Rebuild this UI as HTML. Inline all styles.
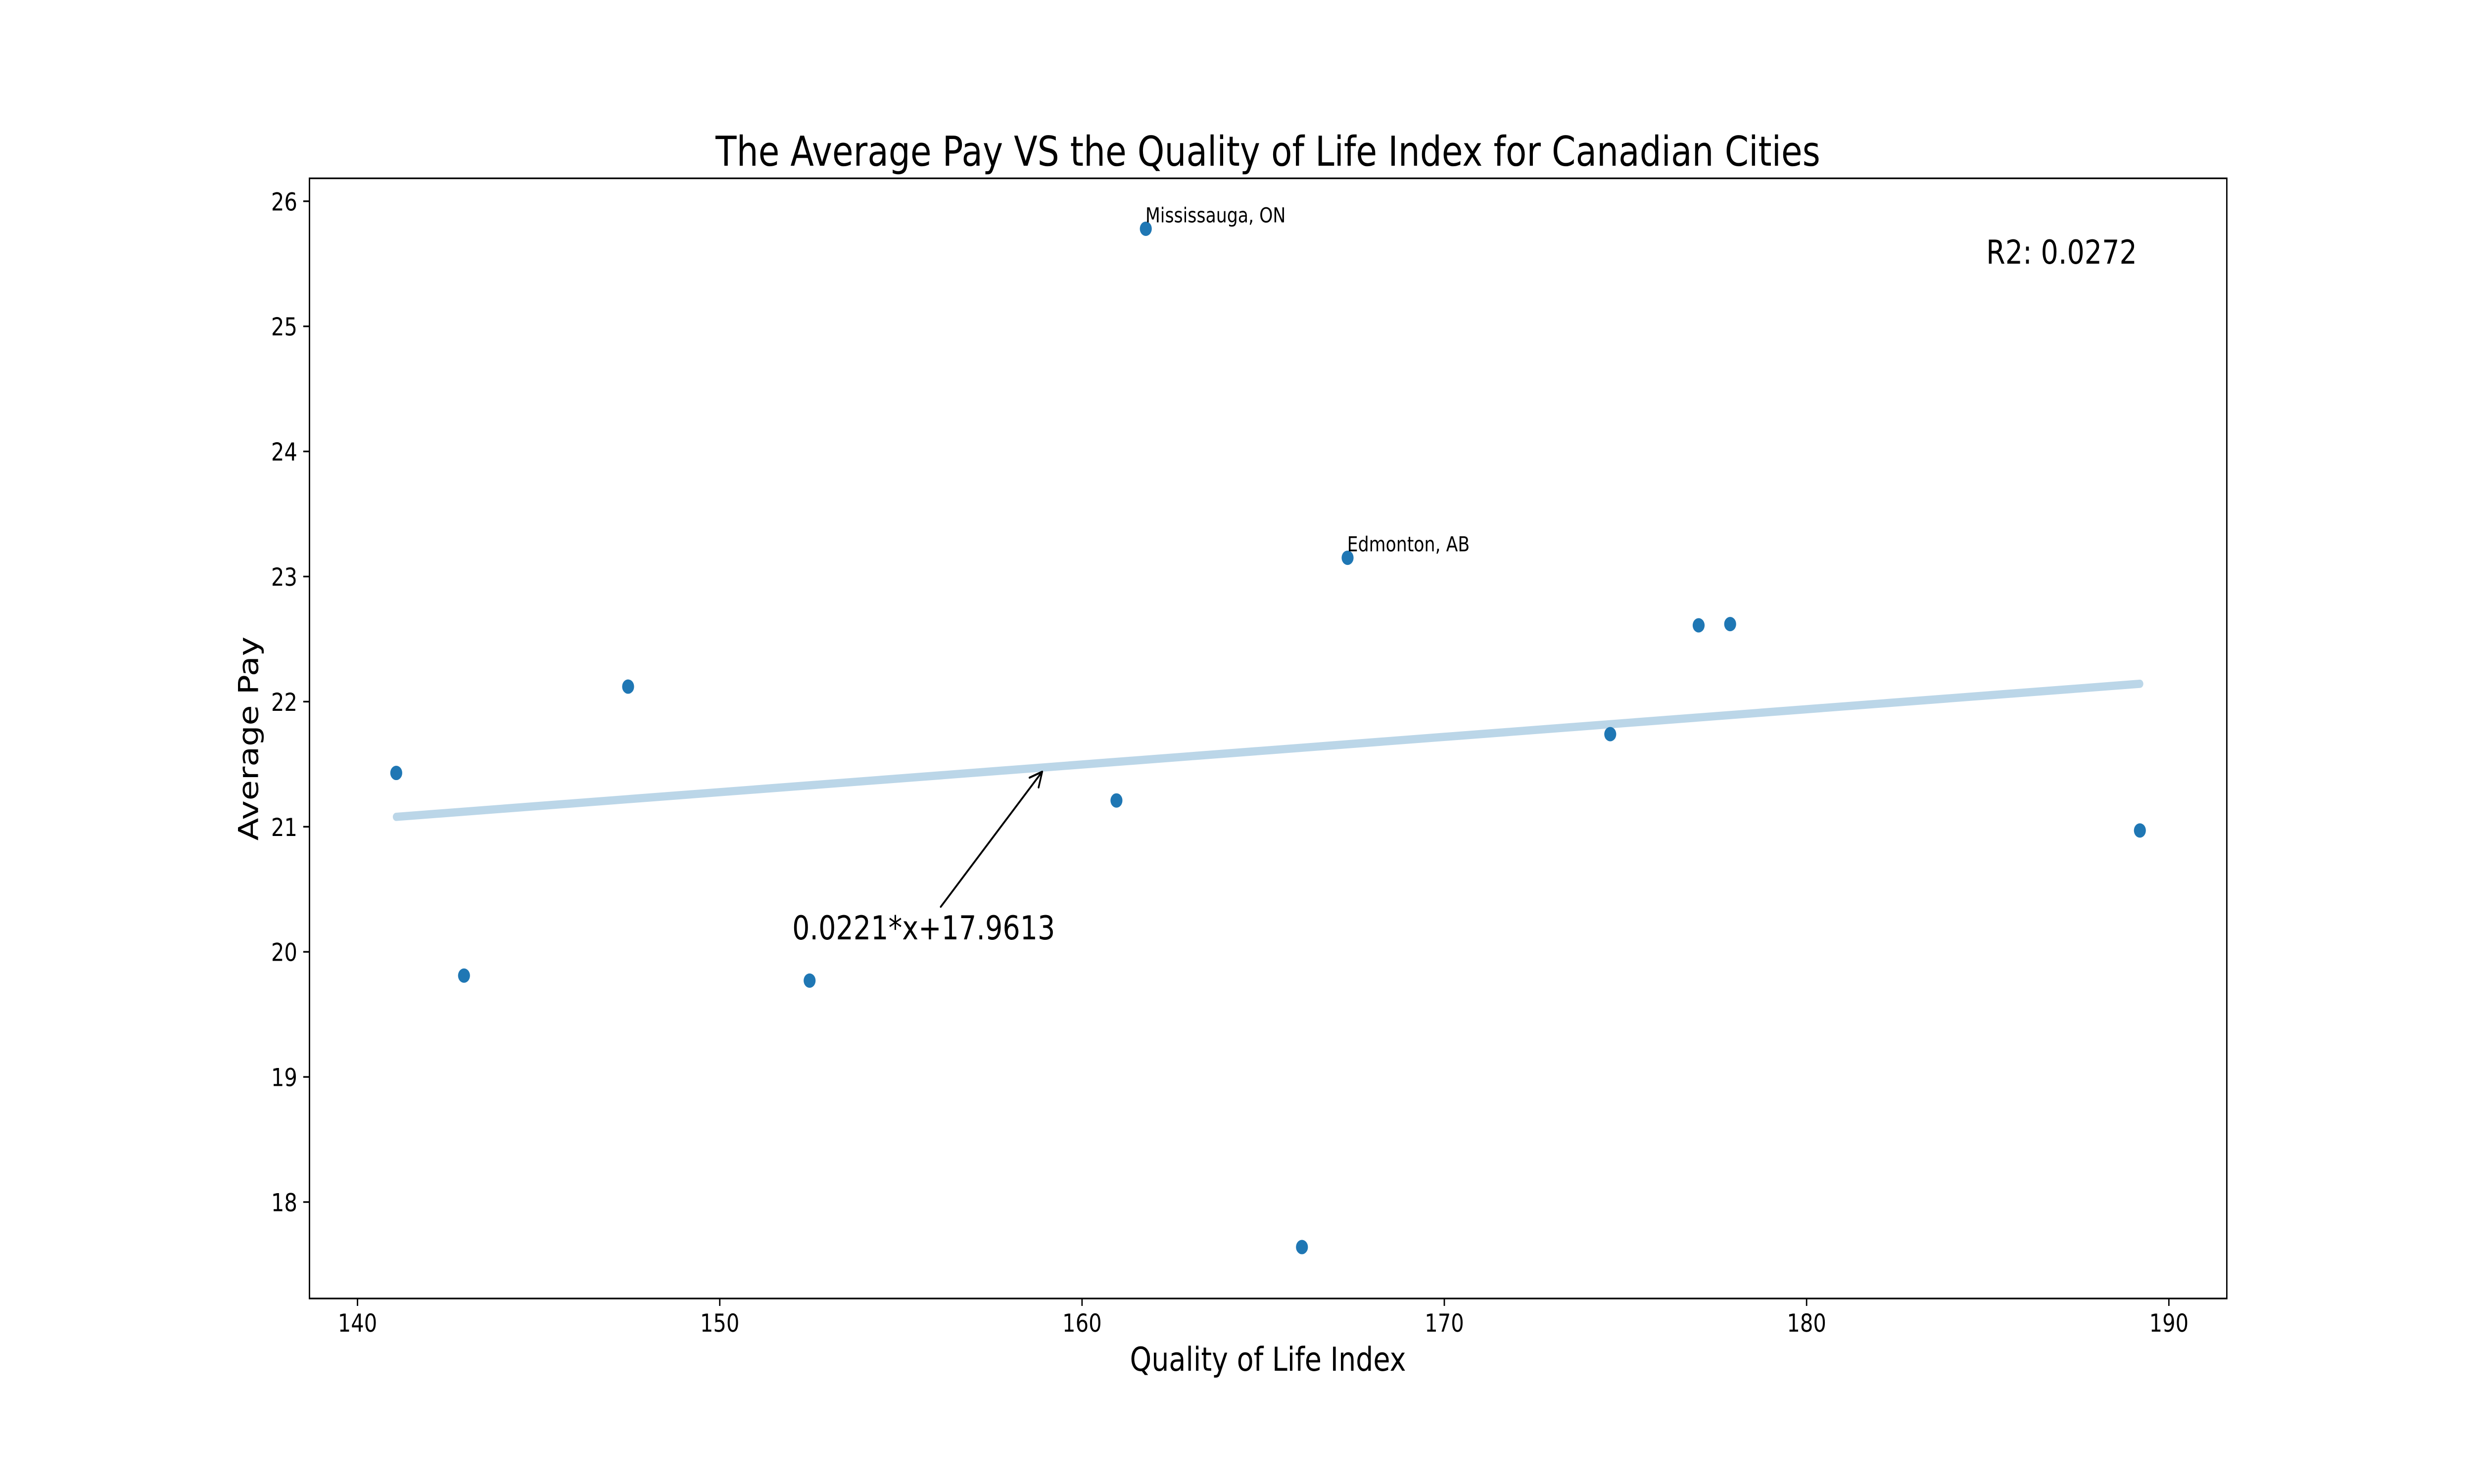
<!DOCTYPE html>
<html>
<head>
<meta charset="utf-8">
<title>The Average Pay VS the Quality of Life Index for Canadian Cities</title>
<style>
html,body{margin:0;padding:0;background:#fff;width:100%;height:100%;overflow:hidden}
svg{display:block;width:100vw;height:100vh}
text{font-family:"DejaVu Sans","Liberation Sans",sans-serif;fill:#000;text-rendering:geometricPrecision}
</style>
</head>
<body>
<svg id="chart" xmlns="http://www.w3.org/2000/svg" viewBox="0 0 6000 3000" preserveAspectRatio="none">
<rect x="0" y="0" width="6000" height="3000" fill="#fff"/>
<g id="marks"></g>
<g id="axes"></g>
<rect x="750.5" y="360.5" width="4650" height="2264.5" fill="none" stroke="#000" stroke-width="3.33"/>
<text x="3075" y="335" font-size="83.33" text-anchor="middle">The Average Pay VS the Quality of Life Index for Canadian Cities</text>
<text x="3075" y="2771" font-size="66.67" text-anchor="middle">Quality of Life Index</text>
<text transform="translate(626 1493) rotate(-90)" font-size="66.67" text-anchor="middle">Average Pay</text>
<text x="4817" y="533" font-size="66.67">R2: 0.0272</text>
</svg>
<script>
var qualityIndex = [141.07, 142.94, 147.47, 152.48, 160.95, 161.76, 166.07, 167.33, 174.58, 177.02, 177.89, 189.2];
var averagePay = [21.43, 19.81, 22.12, 19.77, 21.21, 25.78, 17.64, 23.15, 21.74, 22.61, 22.62, 20.97];
var cityLabels = ["", "", "", "", "", "Mississauga, ON", "", "Edmonton, AB", "", "", "", ""];
var xTicks = [140, 150, 160, 170, 180, 190];
var yTicks = [18, 19, 20, 21, 22, 23, 24, 25, 26];
var fitSlope = 0.0221;
var fitIntercept = 17.9613;
var equationLabel = "0.0221*x+17.9613";
var equationAnchor = [152, 20.1];
var arrowStart = [156.1, 20.36];
var arrowTip = [158.9, 21.44];

var NS = "http://www.w3.org/2000/svg";
function xScale(v) { return 867 + (v - 140) * 87.86; }
function yScale(v) { return 2430 - (v - 18) * 252.9; }
function make(tag, parent, attrs) {
  var el = document.createElementNS(NS, tag);
  for (var k in attrs) { el.setAttribute(k, attrs[k]); }
  parent.appendChild(el);
  return el;
}
var marks = document.getElementById("marks");
var axes = document.getElementById("axes");

xTicks.forEach(function (t) {
  var tick = make("line", axes, { x1: xScale(t), x2: xScale(t), y1: 2625, y2: 2640, stroke: "#000", "stroke-width": 3.33 });
  
  
  var label = make("text", axes, { x: xScale(t), y: 2692, "font-size": 50, "text-anchor": "middle" });
  label.textContent = String(t);
  
  
});

yTicks.forEach(function (t) {
  var tick = make("line", axes, { x1: 735.4, x2: 750, y1: yScale(t), y2: yScale(t), stroke: "#000", "stroke-width": 3.33 });
  
  
  var label = make("text", axes, { x: 721, y: yScale(t) + 18.5, "font-size": 50, "text-anchor": "end" });
  label.textContent = String(t);
  
  
});

qualityIndex.forEach(function (q, i) {
  var dot = make("circle", marks, { cx: xScale(q), cy: yScale(averagePay[i]), r: 14.5, fill: "#1f77b4" });
  
  
});

var fitMinX = Math.min.apply(null, qualityIndex);
var fitMaxX = Math.max.apply(null, qualityIndex);
var fitLine = make("line", marks, {
  x1: xScale(fitMinX), y1: yScale(fitSlope * fitMinX + fitIntercept),
  x2: xScale(fitMaxX), y2: yScale(fitSlope * fitMaxX + fitIntercept),
  stroke: "#1f77b4", "stroke-opacity": 0.3, "stroke-width": 16.67, "stroke-linecap": "round"
});



cityLabels.forEach(function (name, i) {
  if (!name) { return; }
  var label = make("text", marks, { x: xScale(qualityIndex[i]) - 1, y: yScale(averagePay[i]) - 13, "font-size": 41.67 });
  label.textContent = name;
  
  
});

var eq = make("text", marks, { x: xScale(equationAnchor[0]), y: yScale(equationAnchor[1]), "font-size": 66.67 });
eq.textContent = equationLabel;



var sx = xScale(arrowStart[0]), sy = yScale(arrowStart[1]);
var tx = xScale(arrowTip[0]), ty = yScale(arrowTip[1]);
var len = Math.sqrt((tx - sx) * (tx - sx) + (ty - sy) * (ty - sy));
var bx = (sx - tx) / len, by = (sy - ty) / len;
var cosA = 0.894, sinA = 0.447, headLen = 33;
var h1x = tx + headLen * (bx * cosA - by * sinA), h1y = ty + headLen * (bx * sinA + by * cosA);
var h2x = tx + headLen * (bx * cosA + by * sinA), h2y = ty + headLen * (-bx * sinA + by * cosA);
var arrow = make("path", marks, {
  d: "M" + sx + " " + sy + "L" + tx + " " + ty + "M" + h1x + " " + h1y + "L" + tx + " " + ty + "L" + h2x + " " + h2y,
  fill: "none", stroke: "#000", "stroke-width": 4.17, "stroke-linecap": "round", "stroke-linejoin": "round"
});


</script>
</body>
</html>
